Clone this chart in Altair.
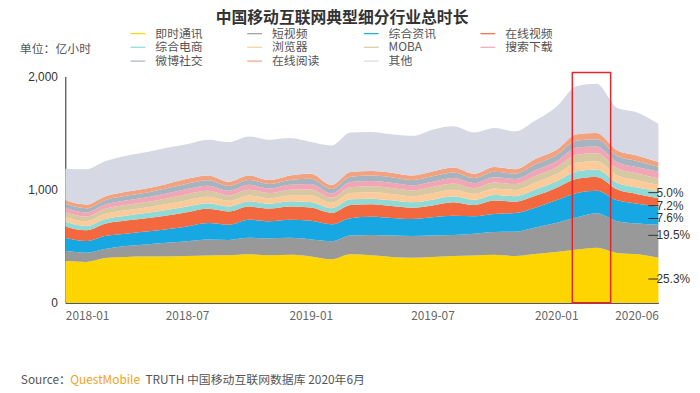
import altair as alt
import pandas as pd

# ---------------- data ----------------
months = [f"{y}-{m:02d}-01" for y in (2018, 2019, 2020) for m in range(1, 13)][:30]

names = ["即时通讯", "短视频", "综合资讯", "在线视频", "综合电商", "浏览器",
         "MOBA", "搜索下载", "微博社交", "在线阅读", "其他"]
colors = ["#FFD500", "#999999", "#17A8E3", "#F4683F", "#8FD9D6", "#FDCB99",
          "#D6C8A0", "#F2A5B5", "#A6B4C0", "#F2A27E", "#D6D9E3"]

im      = [369, 361, 395, 405, 408, 410, 413, 418, 420, 428, 420, 425, 410, 384, 428,
           420, 405, 399, 405, 413, 418, 425, 413, 430, 448, 470, 486, 440, 428, 399]
short_v = [88, 82, 80, 96, 107, 120, 131, 141, 135, 146, 150, 149, 150, 160, 167,
           180, 190, 191, 190, 187, 192, 200, 215, 235, 257, 285, 305, 280, 272, 290]
news    = [117, 102, 115, 110, 115, 120, 131, 146, 135, 160, 150, 160, 165, 150, 153,
           160, 155, 150, 160, 169, 155, 160, 165, 175, 200, 215, 200, 185, 175, 160]
video   = [101, 95, 108, 115, 118, 122, 125, 125, 116, 116, 112, 116, 116, 100, 117,
           110, 105, 100, 105, 120, 98, 118, 100, 105, 110, 125, 120, 95, 85, 75]
ecom    = [40, 38, 42, 44, 45, 47, 50, 50, 45, 47, 43, 47, 50, 42, 49,
           50, 50, 48, 51, 52, 47, 50, 49, 55, 57, 68, 66, 59, 58, 58]
browser = [44, 43, 46, 48, 50, 53, 56, 56, 50, 52, 48, 52, 57, 47, 55,
           56, 56, 54, 57, 58, 53, 56, 55, 62, 64, 75, 74, 66, 64, 58]
moba    = [42, 41, 44, 46, 47, 50, 53, 53, 48, 50, 46, 50, 54, 44, 52,
           53, 53, 51, 54, 55, 50, 53, 52, 58, 60, 71, 70, 62, 61, 59]
search  = [36, 36, 38, 40, 41, 44, 46, 46, 41, 43, 40, 43, 47, 39, 46,
           47, 47, 45, 47, 48, 44, 47, 45, 51, 53, 62, 61, 54, 54, 58]
weibo   = [37, 37, 39, 41, 42, 45, 47, 47, 43, 44, 41, 44, 48, 40, 47,
           48, 48, 46, 48, 49, 45, 48, 46, 52, 54, 63, 62, 55, 54, 44]
reading = [31, 33, 33, 35, 37, 39, 43, 43, 37, 39, 35, 39, 43, 34, 41,
           41, 41, 41, 43, 44, 38, 43, 40, 47, 47, 56, 56, 49, 49, 44]
other   = [280, 312, 310, 320, 320, 320, 305, 315, 350, 345, 355, 330, 280, 350, 350,
           345, 340, 350, 370, 365, 365, 345, 335, 340, 380, 425, 435, 375, 380, 335]

series_values = [im, short_v, news, video, ecom, browser, moba, search, weibo, reading, other]

# annotations at right edge
ann_labels = ["5.0%", "7.2%", "7.6%", "19.5%", "25.3%"]
ann_values = [973, 858, 745, 596, 210]

# highlighted period (red box)
box_start, box_end, box_top = "2020-01-25", "2020-03-22", 2035

x_ticks = [(2018, 1), (2018, 7), (2019, 1), (2019, 7), (2020, 1), (2020, 6)]

# ---------------- tables ----------------
rows = []
for i, (n, vals) in enumerate(zip(names, series_values)):
    for d, v in zip(months, vals):
        rows.append({"date": d, "series": n, "ord": i, "value": v})
df = pd.DataFrame(rows)

ann_df = pd.DataFrame({"start": ["2020-05-17"] * len(ann_labels),
                       "end": ["2020-06-01"] * len(ann_labels),
                       "yv": ann_values, "label": ann_labels})
box_df = pd.DataFrame({"start": [box_start], "end": [box_end], "low": [0], "high": [box_top]})
one = pd.DataFrame({"a": [0]})

CJK = "Noto Sans CJK SC"

x_enc = alt.X("date:T", title=None,
              scale=alt.Scale(domain=[alt.DateTime(year=2018, month=1, date=1),
                                      alt.DateTime(year=2020, month=6, date=1)]),
              axis=alt.Axis(values=[alt.DateTime(year=y, month=m, date=1) for y, m in x_ticks],
                            format="%Y-%m", labelFontSize=12, labelColor="#666",
                            labelFont=CJK, ticks=False, grid=False, domainColor="#222",
                            labelPadding=8, labelOverlap=False))
y_enc = alt.Y("value:Q", stack="zero", title=None,
              scale=alt.Scale(domain=[0, 2000], nice=False),
              axis=alt.Axis(values=[0, 1000, 2000], format=",.0f", labelFontSize=12,
                            labelColor="#333", labelFont="Liberation Sans", ticks=False,
                            grid=False, domainColor="#222", labelPadding=8))

area = alt.Chart(df).mark_area(interpolate="monotone").encode(
    x=x_enc,
    y=y_enc,
    color=alt.Color("series:N", sort=names,
                    scale=alt.Scale(domain=names, range=colors),
                    legend=alt.Legend(orient="none", legendX=66, legendY=-51,
                                      direction="horizontal", columns=4, title=None,
                                      symbolType="M-1,-0.08H1V0.08H-1Z", symbolSize=225,
                                      symbolStrokeWidth=0, labelFontSize=12,
                                      labelFont=CJK, labelColor="#555",
                                      labelOffset=10, columnPadding=44, rowPadding=0,
                                      padding=0)),
    order=alt.Order("ord:Q"),
)

box = alt.Chart(box_df).mark_rect(filled=False, color="#E3262C", strokeWidth=1.5).encode(
    x="start:T", x2="end:T", y="low:Q", y2="high:Q")

ann_rule = alt.Chart(ann_df).mark_rule(color="#333", strokeWidth=1).encode(
    x="start:T", x2="end:T", y="yv:Q")
ann_text = alt.Chart(ann_df).mark_text(align="left", baseline="middle", dx=-2, fontSize=12,
                                       color="#333", font="Liberation Sans").encode(
    x="end:T", y="yv:Q", text="label:N")

title_t = alt.Chart(one).mark_text(align="center", baseline="middle", fontSize=16,
                                   fontWeight="bold", color="#333", font=CJK,
                                   text="中国移动互联网典型细分行业总时长").encode(
    x=alt.value(280), y=alt.value(-59))
unit_t = alt.Chart(one).mark_text(align="left", baseline="middle", fontSize=12,
                                  color="#555", font=CJK, text="单位：亿小时").encode(
    x=alt.value(-46), y=alt.value(-28))
src1 = alt.Chart(one).mark_text(align="left", baseline="middle", fontSize=12,
                                color="#555", font=CJK, text="Source：").encode(
    x=alt.value(-45), y=alt.value(307))
src2 = alt.Chart(one).mark_text(align="left", baseline="middle", fontSize=12,
                                color="#F2A31B", font=CJK, text="QuestMobile").encode(
    x=alt.value(5), y=alt.value(307))
src3 = alt.Chart(one).mark_text(align="left", baseline="middle", fontSize=12,
                                color="#555", font=CJK,
                                text="TRUTH 中国移动互联网数据库 2020年6月").encode(
    x=alt.value(81), y=alt.value(307))

chart = alt.layer(area, box, ann_rule, ann_text, title_t, unit_t, src1, src2, src3).properties(
    width=600, height=229,
    autosize=alt.AutoSizeParams(type="none"),
    padding={"left": 58, "top": 67, "right": 34, "bottom": 86},
).configure_view(stroke=None)

chart.save("out.html", embed_options={"renderer": "svg", "actions": False})
